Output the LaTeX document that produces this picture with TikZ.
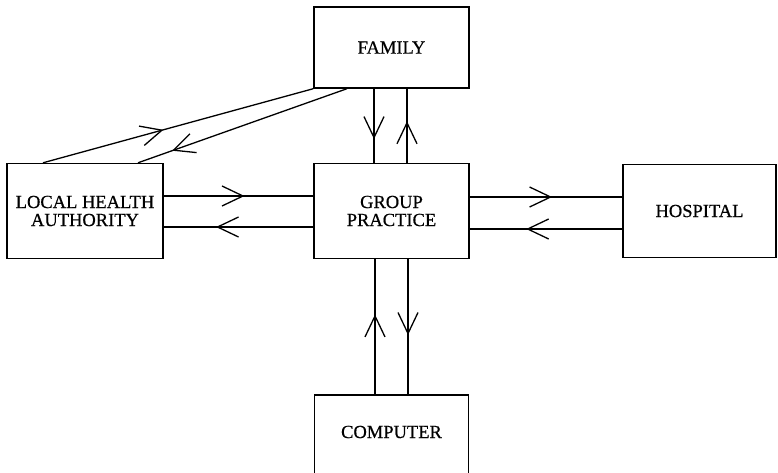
\documentclass[tikz,border=0pt]{standalone}
\usepackage{fontspec}
\setmainfont{Liberation Serif}[FakeBold=0.6]
\usetikzlibrary{decorations.markings}

\tikzset{
  box/.style={draw, line width=1.4pt, rectangle, align=center,
    inner sep=0pt, font=\fontsize{18.5}{18}\selectfont},
  flow/.style={line width=1.3pt},
  midarrow/.style={postaction={decorate}, decoration={markings,
    mark=at position #1 with {\draw[line width=1.3pt, line join=round]
      (-21pt,-10pt) -- (0pt,0pt) -- (-21pt,10pt);}}}
}

\begin{document}
\begin{tikzpicture}[x=1pt,y=-1pt]
  \useasboundingbox (0,0) rectangle (778,473);

  % boxes
  \node[box, minimum width=155pt, minimum height=81pt] (family) at (391.5,47.5) {FAMILY};
  \node[box, minimum width=155pt, minimum height=95pt] (gp) at (391.5,211) {GROUP\\PRACTICE};
  \node[box, minimum width=156pt, minimum height=95pt] (lha) at (85,211) {LOCAL HEALTH\\AUTHORITY};
  \node[box, minimum width=153pt, minimum height=93pt] (hosp) at (699.5,211) {HOSPITAL};
  \node[box, minimum width=154pt, minimum height=90pt] (comp) at (391.5,440) {};
  \node[font=\fontsize{18.5}{18}\selectfont] (comptext) at (391.5,432) {COMPUTER};

  % family <-> group practice
  \draw[flow, midarrow=0.66] ([xshift=-17.5pt]family.south) -- ([xshift=-17.5pt]gp.north);
  \draw[flow, midarrow=0.54] ([xshift=15.5pt]gp.north) -- ([xshift=15.5pt]family.south);

  % group practice <-> computer
  \draw[flow, midarrow=0.58] ([xshift=-16.5pt]comp.north) -- ([xshift=-16.5pt]gp.south);
  \draw[flow, midarrow=0.55] ([xshift=16.5pt]gp.south) -- ([xshift=16.5pt]comp.north);

  % local health authority <-> group practice
  \draw[flow, midarrow=0.53] ([yshift=15pt]lha.east) -- ([yshift=15pt]gp.west);
  \draw[flow, midarrow=0.64] ([yshift=-16pt]gp.west) -- ([yshift=-16pt]lha.east);

  % group practice <-> hospital
  \draw[flow, midarrow=0.53] ([yshift=14pt]gp.east) -- ([yshift=14pt]hosp.west);
  \draw[flow, midarrow=0.62] ([yshift=-18pt]hosp.west) -- ([yshift=-18pt]gp.west -| gp.east);

  % local health authority <-> family
  \draw[flow, midarrow=0.44] ([xshift=-42pt]lha.north) -- (family.south west);
  \draw[flow, midarrow=0.83] ([xshift=-44.5pt]family.south) -- ([xshift=53pt]lha.north);
\end{tikzpicture}
\end{document}
